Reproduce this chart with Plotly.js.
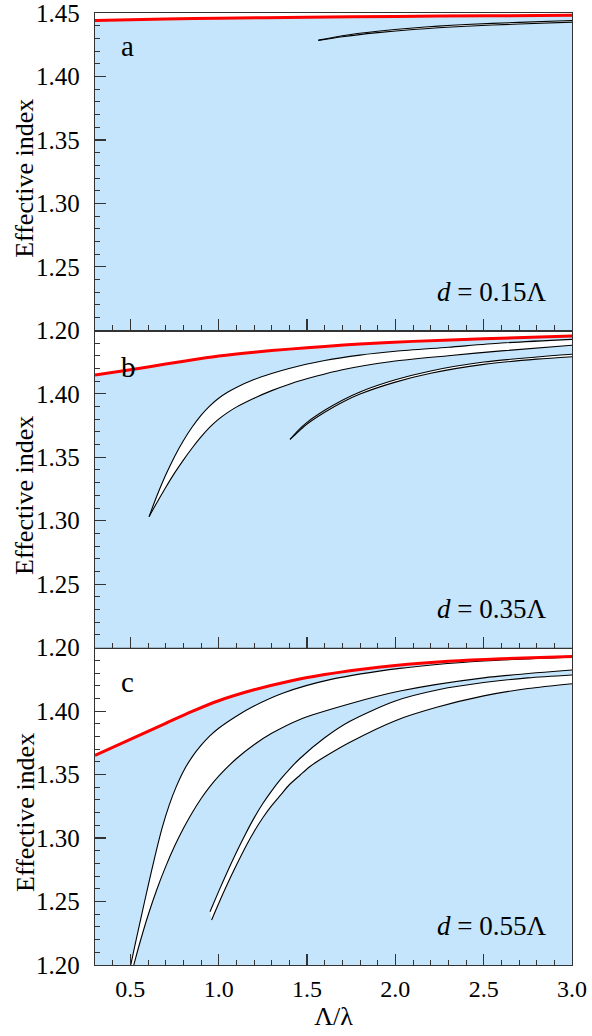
<!DOCTYPE html>
<html>
<head>
<meta charset="utf-8">
<script src="https://cdn.plot.ly/plotly-3.0.1.min.js"></script>
<style>
  html, body { margin: 0; padding: 0; background: #ffffff; }
  #chart { width: 592px; height: 1036px; }
</style>
</head>
<body>
<div id="chart"></div>
<script>
// ---------------- data ----------------
const xRange = [0.3, 3.0];
const yRange = [1.20, 1.45];
const yTicksTop = [1.20, 1.25, 1.30, 1.35, 1.40, 1.45];
const yTicksLower = [1.20, 1.25, 1.30, 1.35, 1.40];

// Panel a: d = 0.15Λ
const redA_x = [0.3, 0.7, 1.0, 1.5, 2.0, 2.5, 3.0];
const redA_y = [1.4440, 1.4452, 1.4459, 1.4467, 1.4473, 1.4478, 1.4482];
const bandA_x = [1.564, 1.7, 1.9, 2.1, 2.4, 2.7, 3.0];
const bandA_lower = [1.4283, 1.4313, 1.4345, 1.4370, 1.4396, 1.4413, 1.4428];
const bandA_upper = [1.4286, 1.4321, 1.4356, 1.4382, 1.4409, 1.4426, 1.4441];

// Panel b: d = 0.35Λ
const redB_x = [0.3, 0.5, 0.7, 0.9, 1.0, 1.2, 1.4, 1.6, 1.8, 2.1, 2.5, 3.0];
const redB_y = [1.4148, 1.4190, 1.4234, 1.4278, 1.4298, 1.4328, 1.4352, 1.4373, 1.4392, 1.4413, 1.4434, 1.4455];
const bandB1_upper_x = [0.606, 0.65, 0.7, 0.75, 0.8, 0.85, 0.9, 0.95, 1.0, 1.05, 1.1, 1.2, 1.3, 1.404, 1.6, 1.8, 2.0, 2.3, 2.6, 3.0];
const bandB1_upper_y = [1.3032, 1.3195, 1.3360, 1.3505, 1.3630, 1.3738, 1.3830, 1.3905, 1.3965, 1.4012, 1.4050, 1.4112, 1.4160, 1.4202, 1.4262, 1.4305, 1.4335, 1.4367, 1.4400, 1.4429];
const bandB1_lower_x = [0.606, 0.65, 0.7, 0.75, 0.8, 0.85, 0.9, 0.95, 1.0, 1.05, 1.1, 1.2, 1.3, 1.404, 1.55, 1.7, 1.97, 2.3, 2.6, 3.0];
const bandB1_lower_y = [1.3032, 1.3142, 1.3262, 1.3375, 1.3478, 1.3573, 1.3660, 1.3737, 1.3800, 1.3852, 1.3895, 1.3965, 1.4025, 1.4078, 1.4138, 1.4190, 1.4253, 1.4300, 1.4338, 1.4382];
const bandB2_x = [1.404, 1.45, 1.5, 1.6, 1.7, 1.8, 2.0, 2.2, 2.5, 2.8, 3.0];
const bandB2_upper = [1.3641, 1.3712, 1.3775, 1.3870, 1.3950, 1.4015, 1.4110, 1.4180, 1.4250, 1.4290, 1.4311];
const bandB2_lower = [1.3641, 1.3700, 1.3762, 1.3855, 1.3934, 1.3998, 1.4092, 1.4162, 1.4232, 1.4273, 1.4292];

// Panel c: d = 0.55Λ
const redC_x = [0.3, 0.5, 0.7, 0.85, 1.0, 1.2, 1.4, 1.6, 1.8, 2.0, 2.3, 2.6, 3.0];
const redC_y = [1.3652, 1.3778, 1.3904, 1.3998, 1.4082, 1.4168, 1.4236, 1.4288, 1.4328, 1.4360, 1.4393, 1.4413, 1.4430];
const bandC1_upper_x = [0.495, 0.51, 0.53, 0.56, 0.6, 0.64, 0.68, 0.72, 0.76, 0.80, 0.85, 0.9, 0.95, 1.0, 1.1, 1.2, 1.366, 1.63, 2.026, 2.5, 3.0];
const bandC1_upper_y = [1.195, 1.2050, 1.2180, 1.2370, 1.2620, 1.2860, 1.3080, 1.3260, 1.3405, 1.3525, 1.3640, 1.3730, 1.3805, 1.3865, 1.3960, 1.4040, 1.4143, 1.4248, 1.4337, 1.4395, 1.4425];
const bandC1_lower_x = [0.51, 0.53, 0.56, 0.6, 0.65, 0.7, 0.75, 0.8, 0.85, 0.9, 0.95, 1.0, 1.1, 1.2, 1.3, 1.46, 1.743, 2.026, 2.5, 3.0];
const bandC1_lower_y = [1.195, 1.2055, 1.2205, 1.2390, 1.2595, 1.2775, 1.2935, 1.3075, 1.3200, 1.3310, 1.3405, 1.3488, 1.3625, 1.3735, 1.3825, 1.3935, 1.4058, 1.4158, 1.4262, 1.4324];
const bandC2_upper_x = [0.951, 1.0, 1.05, 1.1, 1.15, 1.2, 1.25, 1.3, 1.35, 1.4, 1.46, 1.6, 1.743, 2.0, 2.25, 2.5, 2.75, 3.0];
const bandC2_upper_y = [1.2420, 1.2580, 1.2737, 1.2887, 1.3027, 1.3157, 1.3272, 1.3372, 1.3462, 1.3542, 1.3627, 1.3790, 1.3920, 1.4080, 1.4170, 1.4225, 1.4262, 1.4285];
const bandC2_lower_x = [0.960, 1.0, 1.05, 1.1, 1.158, 1.2, 1.25, 1.3, 1.35, 1.4, 1.46, 1.517, 1.6, 1.743, 2.0, 2.234, 2.5, 2.75, 3.0];
const bandC2_lower_y = [1.2355, 1.2485, 1.2640, 1.2785, 1.2945, 1.3050, 1.3160, 1.3255, 1.3338, 1.3420, 1.3495, 1.3564, 1.3640, 1.3755, 1.3925, 1.4030, 1.4120, 1.4178, 1.4216];

const panelLetters = ['a', 'b', 'c'];
const panelLabels = ['<i>d</i> = 0.15Λ', '<i>d</i> = 0.35Λ', '<i>d</i> = 0.55Λ'];
const yTitle = 'Effective index';
const xTitle = 'Λ/λ';

// ---------------- styles ----------------
const FONT = '"Liberation Serif", "Times New Roman", Times, serif';
const BLUE = '#c4e5fb';
const RED = '#ff0000';
const LINE = '#000000';
const FRAME = '#333333';
const SMOOTH = {shape: 'spline', smoothing: 0.8};

const traces = [];
function addPanel(xa, ya, redX, redY, bands) {
  // light-blue region below the red line
  traces.push({x: redX, y: redY, xaxis: xa, yaxis: ya, type: 'scatter', mode: 'lines',
    line: Object.assign({width: 0, color: BLUE}, SMOOTH), fill: 'tozeroy', fillcolor: BLUE,
    hoverinfo: 'skip', showlegend: false});
  // white gaps bounded by black curves
  bands.forEach(b => {
    traces.push({x: b.lx, y: b.ly, xaxis: xa, yaxis: ya, type: 'scatter', mode: 'lines',
      line: Object.assign({width: 1.1, color: LINE}, SMOOTH), showlegend: false});
    traces.push({x: b.ux, y: b.uy, xaxis: xa, yaxis: ya, type: 'scatter', mode: 'lines',
      line: Object.assign({width: 1.1, color: LINE}, SMOOTH), fill: 'tonexty', fillcolor: '#ffffff',
      showlegend: false});
  });
  // red line on top
  traces.push({x: redX, y: redY, xaxis: xa, yaxis: ya, type: 'scatter', mode: 'lines',
    line: Object.assign({width: 3, color: RED}, SMOOTH), showlegend: false});
}

addPanel('x3', 'y3', redA_x, redA_y, [
  {lx: bandA_x, ly: bandA_lower, ux: bandA_x, uy: bandA_upper}
]);
addPanel('x2', 'y2', redB_x, redB_y, [
  {lx: bandB1_lower_x, ly: bandB1_lower_y, ux: bandB1_upper_x, uy: bandB1_upper_y},
  {lx: bandB2_x, ly: bandB2_lower, ux: bandB2_x, uy: bandB2_upper}
]);
addPanel('x', 'y', redC_x, redC_y, [
  {lx: bandC1_lower_x, ly: bandC1_lower_y, ux: bandC1_upper_x, uy: bandC1_upper_y},
  {lx: bandC2_lower_x, ly: bandC2_lower_y, ux: bandC2_upper_x, uy: bandC2_upper_y}
]);

function xAxis(anchor, showLabels) {
  const ax = {
    anchor: anchor, domain: [0, 1], range: xRange,
    showline: true, mirror: true, linecolor: FRAME, linewidth: 1.3,
    ticks: 'inside', ticklen: 11, tickwidth: 1.2, tickcolor: FRAME,
    tick0: 0, dtick: 0.5, tickformat: '.1f',
    minor: {dtick: 0.1, tick0: 0, ticks: 'inside', ticklen: 5, tickwidth: 1, tickcolor: FRAME, showgrid: false},
    showgrid: false, zeroline: false, showticklabels: showLabels,
    ticklabelstandoff: 2,
    tickfont: {family: FONT, size: 24, color: '#000'}
  };
  if (showLabels) {
    ax.title = {text: xTitle, font: {family: FONT, size: 26, color: '#000'}, standoff: 0};
  }
  return ax;
}
function yAxis(anchor, domain, vals) {
  return {
    anchor: anchor, domain: domain, range: yRange,
    showline: true, mirror: true, linecolor: FRAME, linewidth: 1.3,
    ticks: 'inside', ticklen: 11, tickwidth: 1.2, tickcolor: FRAME,
    tickmode: 'array', tickvals: vals, ticktext: vals.map(v => v.toFixed(2)),
    minor: {tickmode: 'linear', dtick: 0.01, tick0: 1.2, ticks: 'inside', ticklen: 5, tickwidth: 1, tickcolor: FRAME, showgrid: false},
    showgrid: false, zeroline: false,
    ticklabelstandoff: 9, ticklabeloverflow: 'allow',
    tickfont: {family: FONT, size: 25, color: '#000'}
  };
}

const letterPos = [[0.069, 0.965], [0.071, 0.628], [0.069, 0.297]];
const labelPos = [0.707, 0.374, 0.041];
const yTitlePos = [0.8267, 0.4937, 0.1607];
const annotations = [];
for (let i = 0; i < 3; i++) {
  annotations.push({xref: 'paper', yref: 'paper', x: letterPos[i][0], y: letterPos[i][1],
    text: panelLetters[i], showarrow: false, xanchor: 'center', yanchor: 'middle',
    font: {family: FONT, size: 29, color: '#000'}});
  annotations.push({xref: 'paper', yref: 'paper', x: 0.95, y: labelPos[i],
    text: panelLabels[i], showarrow: false, xanchor: 'right', yanchor: 'middle',
    font: {family: FONT, size: 27, color: '#000'}});
  annotations.push({xref: 'paper', yref: 'paper', x: -0.147, y: yTitlePos[i],
    text: yTitle, textangle: -90, showarrow: false, xanchor: 'center', yanchor: 'middle',
    font: {family: FONT, size: 26, color: '#000'}});
}

const layout = {
  width: 592, height: 1036,
  margin: {l: 95, r: 20, t: 13, b: 71},
  paper_bgcolor: '#ffffff', plot_bgcolor: '#ffffff',
  showlegend: false,
  xaxis: xAxis('y', true),
  xaxis2: xAxis('y2', false),
  xaxis3: xAxis('y3', false),
  yaxis: yAxis('x', [0, 1/3], yTicksLower),
  yaxis2: yAxis('x2', [1/3, 2/3], yTicksLower),
  yaxis3: yAxis('x3', [2/3, 1], yTicksTop),
  annotations: annotations
};

Plotly.newPlot('chart', traces, layout, {displayModeBar: false, staticPlot: true});
</script>
</body>
</html>
